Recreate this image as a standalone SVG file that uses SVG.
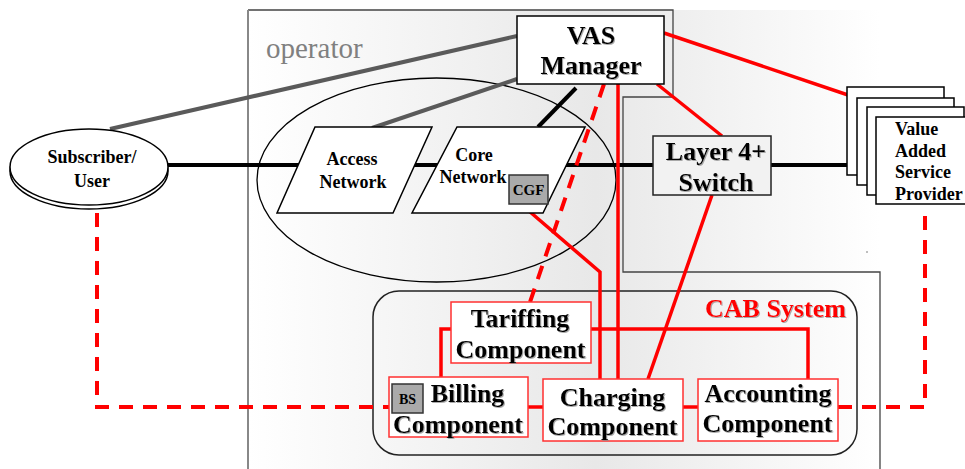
<svg xmlns="http://www.w3.org/2000/svg" width="965" height="469" viewBox="0 0 965 469">
  <style>
    text { font-family: "Liberation Serif", "DejaVu Serif", serif; }
    .lbl { font-weight: bold; fill: #000; text-anchor: middle; }
    .left { text-anchor: start; }
    .big { font-size: 26px; filter: url(#shadow); }
    .mid { font-size: 18px; }
    .node { fill: #fff; stroke: #000; stroke-width: 1.5; }
    .comp { fill: #fff; stroke: #ff3030; stroke-width: 1.5; }
    .tag { fill: #aaaaaa; stroke: #333; stroke-width: 1.5; }
    .wire { fill: none; stroke: #000; stroke-width: 4; }
    .grey { fill: none; stroke: #5a5a5a; stroke-width: 4; }
    .red { fill: none; stroke: #ff0000; stroke-width: 3.5; }
    .dash { fill: none; stroke: #ff0000; stroke-width: 4; stroke-dasharray: 14 10; }
  </style>
  <defs>
    <linearGradient id="bg" x1="248" y1="0" x2="880" y2="0" gradientUnits="userSpaceOnUse">
      <stop offset="0" stop-color="#ffffff"/>
      <stop offset="0.55" stop-color="#e8e8e8"/>
      <stop offset="1" stop-color="#ffffff"/>
    </linearGradient>
    <filter id="shadow" x="-10%" y="-20%" width="130%" height="150%">
      <feDropShadow dx="1" dy="1" stdDeviation="0.5" flood-color="#888" flood-opacity="0.7"/>
    </filter>
  </defs>

  <rect width="965" height="469" fill="#fff"/>

  <!-- operator domain -->
  <g id="operator">
    <rect x="248" y="10" width="632" height="459" fill="url(#bg)"/>
    <polyline points="248,10 673,10 673,97 623,97 623,272 880,272 880,469" fill="none" stroke="#444" stroke-width="1.3"/>
    <line x1="248" y1="10" x2="248" y2="469" stroke="#888" stroke-width="2"/>
    <text x="266" y="58" font-size="29" fill="#808080">operator</text>
    <rect x="866.5" y="251.5" width="1" height="1" fill="#000"/>
  </g>

  <!-- network cloud -->
  <g id="network-area">
    <ellipse cx="436.5" cy="180" rx="179.5" ry="102" fill="none" stroke="#000" stroke-width="1.3"/>
  </g>

  <!-- CAB system frame -->
  <g id="cab-system">
    <rect x="373" y="291" width="484" height="164" rx="26" ry="26" fill="none" stroke="#222" stroke-width="1.5"/>
    <text x="705" y="317" font-weight="bold" font-size="26" fill="#ff0000" filter="url(#shadow)">CAB System</text>
  </g>

  <!-- connectors -->
  <g id="connectors">
    <line class="wire" x1="168" y1="165" x2="850" y2="165"/>
    <line class="grey" x1="110" y1="129" x2="517" y2="36"/>
    <line class="grey" x1="372" y1="128" x2="517" y2="79"/>
    <line class="wire" x1="576" y1="88" x2="538" y2="127" stroke-width="3"/>

    <line class="red" x1="664" y1="33" x2="848" y2="95"/>
    <line class="red" x1="618" y1="84" x2="618" y2="379"/>
    <line class="red" x1="657" y1="84" x2="722" y2="136"/>
    <line class="red" x1="712" y1="195" x2="648" y2="379"/>
    <polyline class="red" points="522,205 600,272 600,379"/>
    <line class="dash" x1="604" y1="84" x2="530" y2="302"/>
    <polyline class="red" points="591,329 808,329 808,379"/>
    <polyline class="red" points="451,329 441,329 441,377"/>
    <line class="red" x1="528" y1="407" x2="543" y2="407"/>
    <line class="red" x1="683" y1="407" x2="698" y2="407"/>
    <polyline class="dash" points="97,213 97,407 389,407"/>
    <polyline class="dash" points="838,407 925,407 925,213"/>
  </g>

  <g id="subscriber">
    <ellipse cx="89" cy="171" rx="79" ry="38" fill="#fff" stroke="#000" stroke-width="1.5"/>
    <ellipse cx="89" cy="167" rx="79" ry="38" fill="#fff" stroke="#000" stroke-width="1.5"/>
    <text class="lbl mid" x="92" y="163">Subscriber/</text>
    <text class="lbl mid" x="92" y="187">User</text>
  </g>

  <g id="vas-manager">
    <rect class="node" x="517" y="16" width="147" height="68"/>
    <text class="lbl big" x="591" y="44">VAS</text>
    <text class="lbl big" x="591" y="74">Manager</text>
  </g>

  <g id="access-network">
    <polygon class="node" points="315,127 432,127 393,213 277,213" stroke-width="1.3"/>
    <text class="lbl mid" x="352" y="165">Access</text>
    <text class="lbl mid" x="353" y="188">Network</text>
  </g>

  <g id="core-network">
    <polygon class="node" points="457,127 585,127 543,213 412,213" stroke-width="1.3"/>
    <text class="lbl mid" x="474" y="161">Core</text>
    <text class="lbl mid" x="473" y="183">Network</text>
    <rect class="tag" x="509" y="175" width="39" height="29"/>
    <text class="lbl" x="528.5" y="195" font-size="15">CGF</text>
  </g>

  <g id="layer4-switch">
    <rect x="653" y="136" width="118" height="59" fill="#f2f2f2" stroke="#222" stroke-width="1.5"/>
    <text class="lbl big" x="716" y="160">Layer 4+</text>
    <text class="lbl big" x="716" y="191">Switch</text>
  </g>

  <g id="service-providers">
    <rect class="node" x="847" y="87" width="97" height="88"/>
    <rect class="node" x="857" y="98" width="97" height="87"/>
    <rect class="node" x="867" y="107" width="97" height="88"/>
    <rect class="node" x="876" y="117" width="97" height="87"/>
    <text class="lbl mid left" x="895" y="135">Value</text>
    <text class="lbl mid left" x="895" y="157">Added</text>
    <text class="lbl mid left" x="895" y="178">Service</text>
    <text class="lbl mid left" x="895" y="200">Provider</text>
  </g>

  <g id="tariffing">
    <rect class="comp" x="451" y="302" width="140" height="61"/>
    <text class="lbl big" x="520" y="327">Tariffing</text>
    <text class="lbl big" x="520.5" y="358">Component</text>
  </g>

  <g id="billing">
    <rect class="comp" x="389" y="377" width="139" height="60"/>
    <rect class="tag" x="392" y="384" width="31" height="29"/>
    <text class="lbl" x="407.5" y="404" font-size="14">BS</text>
    <text class="lbl big" x="467.5" y="402">Billing</text>
    <text class="lbl big" x="458" y="433">Component</text>
  </g>

  <g id="charging">
    <rect class="comp" x="543" y="379" width="140" height="62"/>
    <text class="lbl big" x="612.5" y="406">Charging</text>
    <text class="lbl big" x="612.5" y="435">Component</text>
  </g>

  <g id="accounting">
    <rect class="comp" x="698" y="379" width="140" height="62"/>
    <text class="lbl big" x="768" y="402">Accounting</text>
    <text class="lbl big" x="767.5" y="432">Component</text>
  </g>
</svg>
